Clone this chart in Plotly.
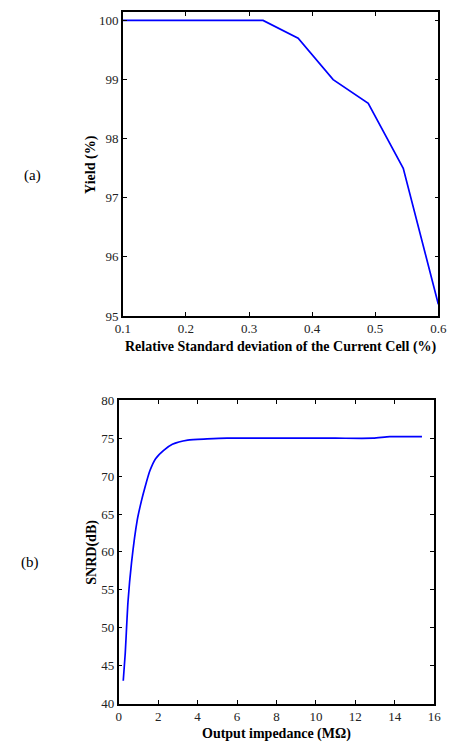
import plotly.graph_objects as go

# ---- Data (a) ----
sigma_pct = [0.1, 0.1556, 0.2111, 0.2667, 0.3222, 0.3778, 0.4333, 0.4889, 0.5444, 0.6]
yield_pct = [100.0, 100.0, 100.0, 100.0, 100.0, 99.7, 99.0, 98.6, 97.5, 95.2]

# ---- Data (b) ----
impedance_mohm = [0.23, 0.33, 0.47, 0.65, 0.94, 1.14, 1.33, 1.58, 1.87, 2.28, 2.72,
                  3.5, 4.48, 5.5, 7.0, 9.0, 11.0, 12.9, 13.75, 15.38]
snrd_db = [43.0, 46.6, 53.4, 58.6, 64.2, 66.6, 68.5, 70.7, 72.3, 73.4, 74.2,
           74.75, 74.9, 75.0, 75.0, 75.0, 75.0, 75.0, 75.2, 75.2]

ticks_a_x = [0.1, 0.2, 0.3, 0.4, 0.5, 0.6]
ticks_a_y = [95, 96, 97, 98, 99, 100]
ticks_b_x = [0, 2, 4, 6, 8, 10, 12, 14, 16]
ticks_b_y = [40, 45, 50, 55, 60, 65, 70, 75, 80]

W, H = 456, 753
FONT = "'Liberation Serif', 'Times New Roman', Times, serif"

fig = go.Figure()
fig.add_trace(go.Scatter(x=sigma_pct, y=yield_pct, mode="lines",
                         line=dict(color="#0000ff", width=1.7), xaxis="x", yaxis="y",
                         showlegend=False))
fig.add_trace(go.Scatter(x=impedance_mohm, y=snrd_db, mode="lines",
                         line=dict(color="#0000ff", width=1.7, shape="spline", smoothing=0.6),
                         xaxis="x2", yaxis="y2", showlegend=False))

def px_x(p):
    return p / W

def px_y(p):
    return 1 - p / H

axis_common = dict(showline=True, linecolor="black", linewidth=1.5, mirror="ticks",
                   ticks="inside", ticklen=4, tickwidth=1, tickcolor="black",
                   showgrid=False, zeroline=False,
                   tickfont=dict(family=FONT, size=13, color="#222"))

a_l, a_r, a_t, a_b = 119.3, 447.0, 5.3, 315.3
b_l, b_r, b_t, b_b = 115.0, 442.7, 401.3, 710.7

fig.update_layout(
    width=W, height=H, margin=dict(l=0, r=0, t=0, b=0),
    paper_bgcolor="white", plot_bgcolor="white",
    xaxis=dict(domain=[px_x(a_l), px_x(a_r)], range=[0.1, 0.6], tickvals=ticks_a_x,
               ticktext=[f"{v:g}" for v in ticks_a_x], anchor="y", **axis_common),
    yaxis=dict(domain=[px_y(a_b), px_y(a_t)], range=[95, 100.14], tickvals=ticks_a_y,
               anchor="x", **axis_common),
    xaxis2=dict(domain=[px_x(b_l), px_x(b_r)], range=[0, 16], tickvals=ticks_b_x,
                anchor="y2", **axis_common),
    yaxis2=dict(domain=[px_y(b_b), px_y(b_t)], range=[40, 80], tickvals=ticks_b_y,
                anchor="x2", **axis_common),
)

title_font = dict(family=FONT, size=14, color="black")
ann = [
    dict(text="<b>Relative Standard deviation of the Current Cell (%)</b>",
         x=px_x((a_l + a_r) / 2), y=px_y(347), showarrow=False, font=title_font),
    dict(text="<b>Yield (%)</b>", x=px_x(86), y=px_y((a_t + a_b) / 2), textangle=-90,
         showarrow=False, font=title_font),
    dict(text="<b>Output impedance (MΩ)</b>",
         x=px_x((b_l + b_r) / 2), y=px_y(742), showarrow=False, font=title_font),
    dict(text="<b>SNRD(dB)</b>", x=px_x(87), y=px_y((b_t + b_b) / 2), textangle=-90,
         showarrow=False, font=title_font),
    dict(text="(a)", x=px_x(25), y=px_y(172), showarrow=False,
         font=dict(family=FONT, size=15, color="black")),
    dict(text="(b)", x=px_x(23), y=px_y(567), showarrow=False,
         font=dict(family=FONT, size=15, color="black")),
]
for a in ann:
    a.update(xref="paper", yref="paper", xanchor="center", yanchor="middle")
fig.update_layout(annotations=ann)

fig.write_html("out.html", config={"displayModeBar": False},
               post_script="document.body.style.margin='0';document.body.style.overflow='hidden';")
